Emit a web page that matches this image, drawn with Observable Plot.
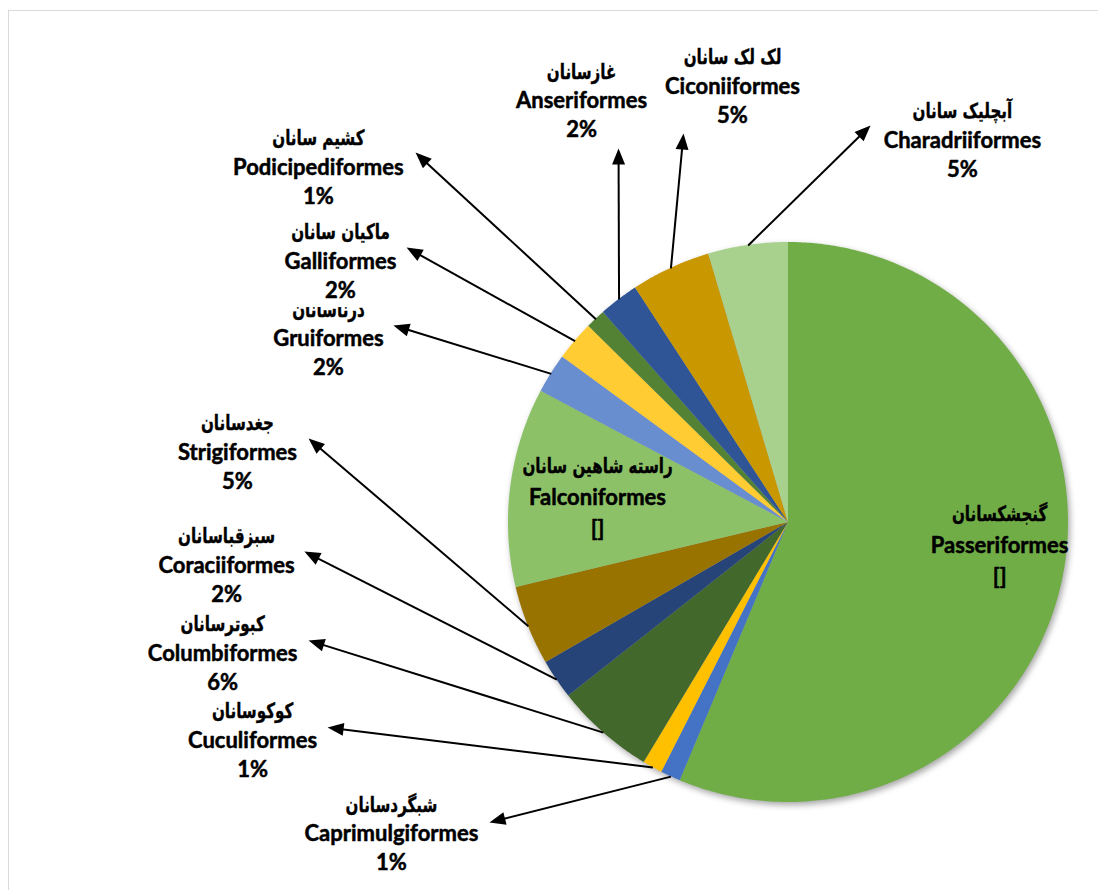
<!DOCTYPE html>
<html>
<head>
<meta charset="utf-8">
<script src="https://cdn.jsdelivr.net/npm/d3@7"></script>
<script src="https://cdn.jsdelivr.net/npm/@observablehq/plot@0.6"></script>
<style>
  html, body { margin: 0; padding: 0; background: #fff; overflow: hidden; }
  #chart { position: relative; width: 1098px; height: 890px; }
  #frame { position: absolute; left: 8px; top: 10px; width: 1300px; height: 1100px;
           border: 1px solid #d9d9d9; box-sizing: border-box; pointer-events: none; }
  #chart svg { position: absolute; left: 0; top: 0; }
</style>
</head>
<body>
<div id="chart"><div id="frame"></div></div>
<script>
// ---------------- data ----------------
const orders = [
  "Passeriformes", "Caprimulgiformes", "Cuculiformes", "Columbiformes",
  "Coraciiformes", "Strigiformes", "Falconiformes", "Gruiformes",
  "Galliformes", "Podicipediformes", "Anseriformes", "Ciconiiformes", "Charadriiformes"
];
const persianNames = [
  "گنجشکسانان", "شبگردسانان", "کوکوسانان", "کبوترسانان",
  "سبزقباسانان", "جغدسانان", "راسته شاهین سانان", "درناسانان",
  "ماکیان سانان", "کشیم سانان", "غازسانان", "لک لک سانان", "آبچلیک سانان"
];
const speciesCounts = [49, 1, 1, 5, 2, 4, 10, 2, 2, 1, 2, 4, 4];
// labels whose value field shows as "[]" in the original chart
const brokenValueLabels = ["Passeriformes", "Falconiformes"];

// ---------------- styles ----------------
const sliceColors = [
  "#70AD47", "#4472C4", "#FFC000", "#43682B",
  "#264478", "#997300", "#8CC168", "#698ED0",
  "#FFCD33", "#548235", "#2F5597", "#C99700", "#A9D18E"
];

// ---------------- layout (pie radius = 1, origin at pie centre, y up) ----------------
const labelLayout = [
  {order: "Passeriformes",    x:  0.754, y: -0.082, box: false, gap: 31},
  {order: "Caprimulgiformes", x: -1.418, y: -1.114, box: true, gap: 29, tipX: -1.068, tipY: -1.071},
  {order: "Cuculiformes",     x: -1.914, y: -0.779, box: true, gap: 29, tipX: -1.646, tipY: -0.732},
  {order: "Columbiformes",    x: -2.021, y: -0.468, box: true, gap: 29, tipX: -1.714, tipY: -0.421},
  {order: "Coraciiformes",    x: -2.007, y: -0.154, box: true, gap: 29, tipX: -1.729, tipY: -0.104},
  {order: "Strigiformes",     x: -1.968, y:  0.250, box: true, gap: 29, tipX: -1.714, tipY:  0.300},
  {order: "Falconiformes",    x: -0.682, y:  0.089, box: false, gap: 31},
  {order: "Gruiformes",       x: -1.643, y:  0.654, box: true, gap: 29, tipX: -1.411, tipY:  0.704},
  {order: "Galliformes",      x: -1.600, y:  0.932, box: true, gap: 29, tipX: -1.364, tipY:  0.982},
  {order: "Podicipediformes", x: -1.679, y:  1.268, box: true, gap: 29, tipX: -1.332, tipY:  1.321},
  {order: "Anseriformes",     x: -0.739, y:  1.504, box: true, gap: 29, tipX: -0.607, tipY:  1.336},
  {order: "Ciconiiformes",    x: -0.200, y:  1.557, box: true, gap: 29, tipX: -0.375, tipY:  1.389},
  {order: "Charadriiformes",  x:  0.621, y:  1.364, box: true, gap: 29, tipX:  0.293, tipY:  1.418}
];

// ---------------- geometry from data ----------------
const total = d3.sum(speciesCounts);
const arcs = d3.pie().sort(null).value(d => d)(speciesCounts); // clockwise from 12 o'clock

const wedgePoints = [];
orders.forEach((name, i) => {
  const a0 = arcs[i].startAngle, a1 = arcs[i].endAngle;
  const n = Math.max(2, Math.ceil((a1 - a0) / (Math.PI / 360)));
  for (let k = 0; k <= n; k++) {
    const a = a0 + (a1 - a0) * k / n;
    wedgePoints.push({name, cx: 0, cy: 0, ex: Math.sin(a), ey: Math.cos(a)});
  }
});

const PX = 280; // pixels per unit radius (matches the scale domains below)
const leaders = labelLayout.filter(d => d.tipX != null).map(d => {
  const i = orders.indexOf(d.order);
  const mid = (arcs[i].startAngle + arcs[i].endAngle) / 2;
  const sx = Math.sin(mid), sy = Math.cos(mid);
  const dx = d.tipX - sx, dy = d.tipY - sy;
  const len = Math.hypot(dx, dy);
  const back = 10 / PX;
  return {
    order: d.order, sx, sy,
    lx: d.tipX - dx / len * back, ly: d.tipY - dy / len * back,
    tx: d.tipX, ty: d.tipY,
    rot: Math.atan2(dx, dy) * 180 / Math.PI
  };
});

const arrowHead = {
  draw(ctx) {
    ctx.moveTo(0, 0);
    ctx.lineTo(6.5, 16);
    ctx.lineTo(-6.5, 16);
    ctx.closePath();
  }
};

const latinFont = "Lato, 'Open Sans', sans-serif";
const persianFont = "'DejaVu Sans', sans-serif";
const heavy = {fill: "black", stroke: "black", strokeWidth: 0.5, paintOrder: "stroke"};

const labelMarks = labelLayout.flatMap(d => {
  const i = orders.indexOf(d.order);
  const pct = brokenValueLabels.includes(d.order)
    ? "[]"
    : `${Math.round(speciesCounts[i] / total * 100)}%`;
  const row = [{x: d.x, y: d.y, name: d.order, persian: persianNames[i], pct}];
  const marks = [];
  if (d.box) {
    const hw = (d.order.length * 12 + 10) / 2 / PX;
    const hh = 46 / PX;
    marks.push(Plot.rect(row, {
      x1: r => r.x - hw, x2: r => r.x + hw,
      y1: r => r.y - hh, y2: r => r.y + hh,
      fill: "white"
    }));
  }
  marks.push(Plot.text(row, {x: "x", y: "y", text: "persian", dy: -d.gap,
    fontFamily: persianFont, fontWeight: "bold", fontSize: 21, ...heavy, strokeWidth: 0.4}));
  marks.push(Plot.text(row, {x: "x", y: "y", text: "name",
    fontFamily: latinFont, fontWeight: "bold", fontSize: 22, ...heavy}));
  marks.push(Plot.text(row, {x: "x", y: "y", text: "pct", dy: d.gap,
    fontFamily: latinFont, fontWeight: "bold", fontSize: 22, ...heavy}));
  return marks;
});

const chart = Plot.plot({
  width: 1098,
  height: 890,
  margin: 0,
  x: {domain: [-788 / PX, 310 / PX], axis: null},
  y: {domain: [-368 / PX, 522 / PX], axis: null},
  color: {domain: orders, range: sliceColors},
  style: {background: "transparent", overflow: "visible"},
  marks: [
    Plot.area(wedgePoints, {x1: "cx", y1: "cy", x2: "ex", y2: "ey", z: "name", fill: "name"}),
    ...labelMarks,
    Plot.link(leaders, {x1: "sx", y1: "sy", x2: "lx", y2: "ly", stroke: "black", strokeWidth: 2}),
    Plot.dot(leaders, {x: "tx", y: "ty", symbol: arrowHead, rotate: "rot", fill: "black", stroke: "none", r: 5})
  ]
});

const pieGroup = chart.querySelector('g[aria-label="area"]');
if (pieGroup) pieGroup.style.filter = "drop-shadow(2px 3px 3px rgba(0,0,0,0.35))";

document.getElementById("chart").appendChild(chart);

// The Persian glyphs of DejaVu Sans are wider than the original's font: condense them.
const arabic = /[\u0600-\u06FF]/;
chart.querySelectorAll("text").forEach(t => {
  if (arabic.test(t.textContent)) {
    const w = t.getComputedTextLength();
    if (w > 0) {
      t.setAttribute("textLength", (w * 0.72).toFixed(1));
      t.setAttribute("lengthAdjust", "spacingAndGlyphs");
    }
  }
});
</script>
</body>
</html>
